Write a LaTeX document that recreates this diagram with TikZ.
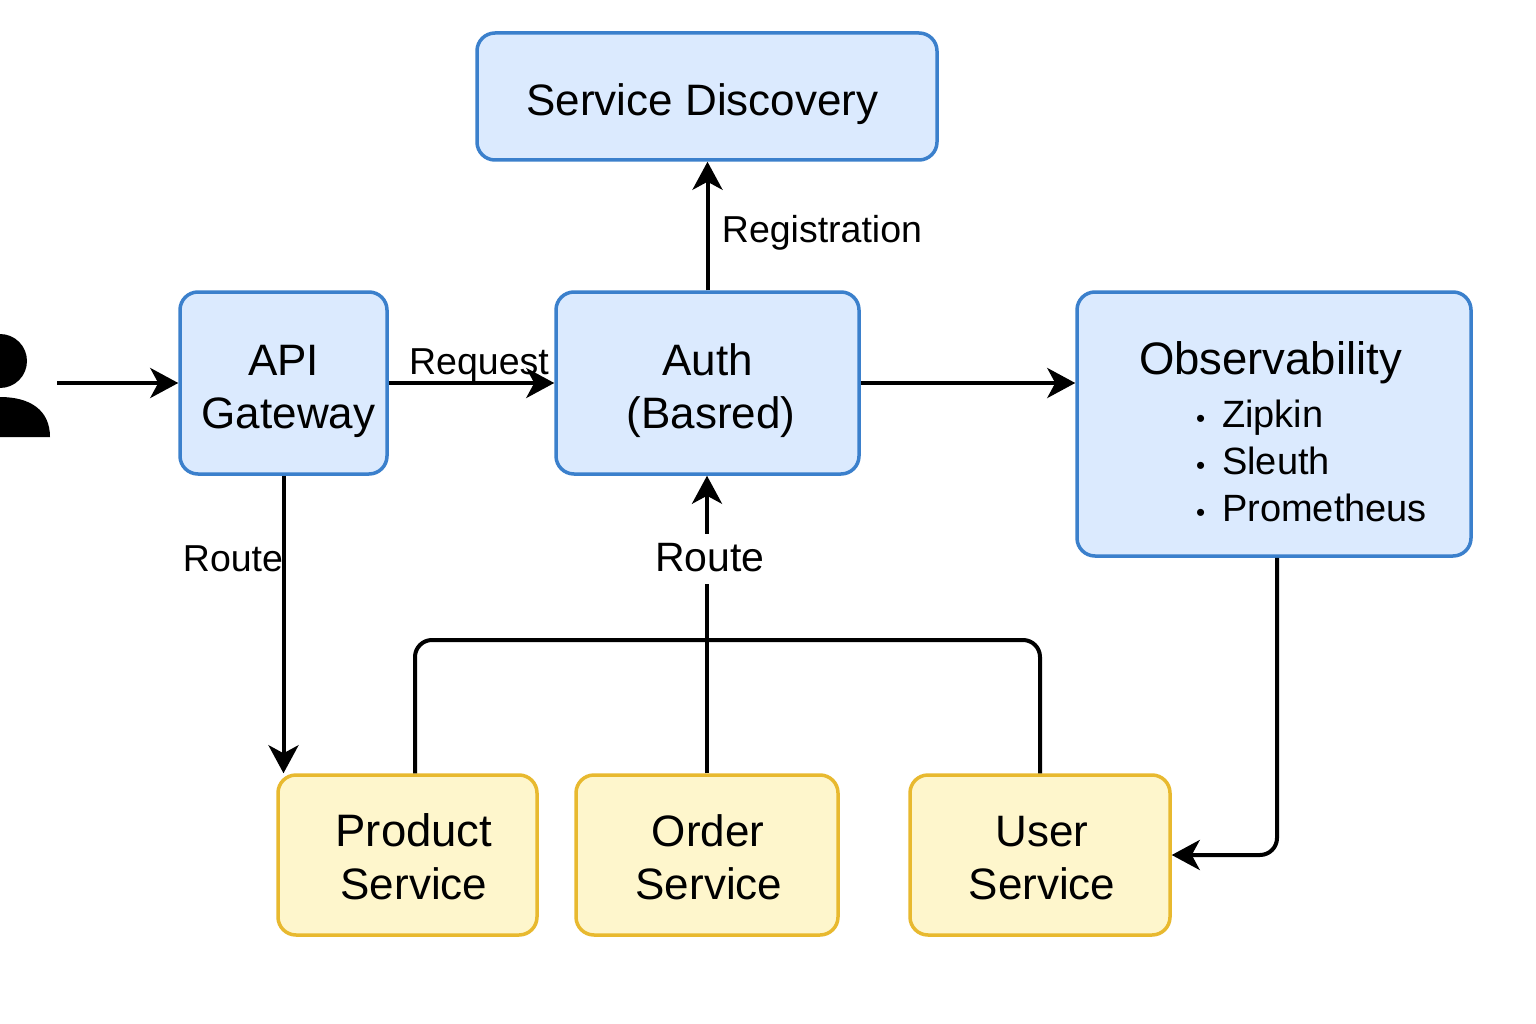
\documentclass[tikz,border=0pt]{standalone}
\usepackage{fontspec}
\setmainfont{Liberation Sans}
\usetikzlibrary{arrows.meta}
\definecolor{bluefill}{HTML}{DBEAFE}
\definecolor{bluestroke}{HTML}{3B80CC}
\definecolor{yellowfill}{HTML}{FEF6CC}
\definecolor{yellowstroke}{HTML}{E8B92F}
\newcommand{\bigtext}{\fontsize{44}{53}\selectfont}
\newcommand{\widetext}{\fontsize{45.5}{53}\selectfont}
\newcommand{\smalltext}{\fontsize{38}{47}\selectfont}
\newcommand{\obsitem}[1]{{\smalltext\hspace*{75pt}{\fontsize{26}{26}\selectfont\textbullet}\hspace*{17pt}#1}}
\newcommand{\down}[1]{\rule{0pt}{#1pt}}
\tikzset{
  x=1pt,y=-1pt,
  basebox/.style={draw,line width=3.5pt,rounded corners=18pt,inner sep=0pt,align=center,font=\bigtext},
  bluebox/.style={basebox,fill=bluefill,draw=bluestroke},
  yellowbox/.style={basebox,fill=yellowfill,draw=yellowstroke},
  link/.style={line width=4pt,draw=black,-{Stealth[length=28pt,width=30pt,inset=8pt]}},
  plainlink/.style={line width=4pt,draw=black},
  elbow/.style={rounded corners=17pt},
  lbl/.style={inner sep=0pt,font=\fontsize{37.5}{47}\selectfont}
}
\begin{document}
\begin{tikzpicture}
\useasboundingbox (0,0) rectangle (1536,1024);
\fill[white] (0,0) rectangle (1536,1024);

\node[bluebox,minimum width=460pt,minimum height=127pt] (sd) at (707,96.5) {\hspace*{-9pt}\down{48}Service Discovery};
\node[bluebox,minimum width=207pt,minimum height=182pt] (api) at (283.5,383) {\down{48}API\\\hspace*{10pt}Gateway};
\node[bluebox,minimum width=303pt,minimum height=182pt] (auth) at (707.5,383) {\down{48}Auth\\\hspace*{7pt}(Basred)};
\node[bluebox,minimum width=394pt,minimum height=264pt] (obs) at (1274,424) {%
  \begin{tabular}{@{}l@{}}
  \down{63}\hspace*{18pt}{\widetext Observability}\\
  \obsitem{Zipkin}\\[-6pt]
  \obsitem{Sleuth}\\[-6pt]
  \obsitem{Prometheus}
  \end{tabular}};
\node[yellowbox,minimum width=259pt,minimum height=160pt] (product) at (407.5,855) {\down{36}\hspace*{13pt}{\widetext Product}\\\hspace*{13pt}Service};
\node[yellowbox,minimum width=262pt,minimum height=160pt] (order) at (707,855) {\down{36}\hspace*{2pt}Order\\\hspace*{4pt}Service};
\node[yellowbox,minimum width=260pt,minimum height=160pt] (user) at (1040,855) {\down{36}\hspace*{4pt}User\\\hspace*{4pt}Service};

\fill[black] (0,334) arc[start angle=-90,end angle=90,radius=27] -- cycle;
\fill[black] (0,397) .. controls (30,397) and (50,410) .. (50,437) -- (0,437) -- cycle;
\coordinate (userend) at (57,383);
\coordinate (bus) at (707,640);

\draw[link] (userend) -- (api.west);
\draw[link] (api.east) -- (auth.west);
\draw[link] (auth.east) -- (auth.east -| obs.west);
\draw[link] (auth.north) -- (auth.north |- sd.south);
\draw[link] (api.south) -- (api.south |- product.north);
\draw[plainlink,elbow] ([xshift=7.5pt]product.north) |- (bus) -| (user.north);
\draw[link] (order.north) -- (auth.south -| order.north) node[pos=0.72,fill=white,inner sep=0pt,minimum height=50pt,minimum width=116pt,font=\fontsize{41}{47}\selectfont] (routeb) {\hspace*{6pt}\raisebox{3pt}{Route}};
\draw[link,elbow] ([xshift=3pt]obs.south) |- (user.east);

\node[lbl] (req) at (479,365) {Request};
\node[lbl] (reg) at (822,233) {Registration};
\node[lbl] (routea) at (233,559) {Route};
\end{tikzpicture}
\end{document}
